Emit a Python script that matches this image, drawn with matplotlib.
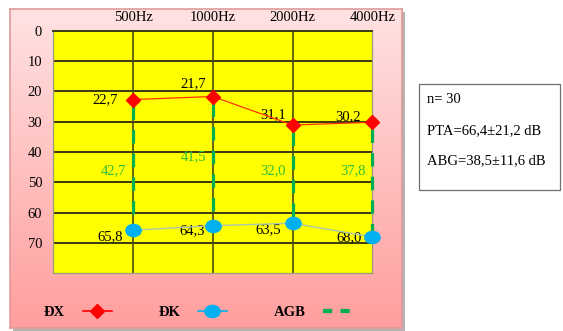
#!/usr/bin/env python3
"""Audiogram: mean thresholds for air (DX) and bone (DK) conduction with air-bone gap."""

import numpy as np
import matplotlib
matplotlib.use('Agg')
import matplotlib.pyplot as plt
from matplotlib.lines import Line2D
from matplotlib.patches import Rectangle
from matplotlib.path import Path

# ── Data ──────────────────────────────────────────────────────────────────────
freqs = ['500Hz', '1000Hz', '2000Hz', '4000Hz']
dx_vals = [22.7, 21.7, 31.1, 30.2]       # air conduction (dB)
dk_vals = [65.8, 64.3, 63.5, 68.0]       # bone conduction (dB)
agb_vals = [42.7, 41.5, 32.0, 37.8]      # air-bone gap labels
y_ticks = [0, 10, 20, 30, 40, 50, 60, 70]
stats_lines = ['n= 30', 'PTA=66,4±21,2 dB', 'ABG=38,5±11,6 dB']

plt.rcParams['font.family'] = ['Liberation Serif', 'DejaVu Serif']

W, H = 563, 331
fig = plt.figure(figsize=(W / 100, H / 100), dpi=100)
fig.patch.set_facecolor('white')


def fx(px):
    return px / W


def fy(py):
    return 1 - py / H


# ── Pink panel with shadow and vertical gradient ──────────────────────────────
px0, py0, px1, py1 = 10, 9, 402, 328
shadow = fig.add_axes([fx(px0 + 3), fy(py1 + 3), fx(px1 - px0), (py1 - py0) / H], zorder=-2)
shadow.set_facecolor('#b4b4b4')
shadow.set_xticks([])
shadow.set_yticks([])
for s in shadow.spines.values():
    s.set_visible(False)

bg = fig.add_axes([fx(px0), fy(py1), fx(px1 - px0), (py1 - py0) / H], zorder=-1)
top_c = np.array([255, 226, 226]) / 255
bot_c = np.array([255, 158, 158]) / 255
t = np.linspace(0, 1, 256)[:, None, None]
grad = top_c * (1 - t) + bot_c * t
bg.imshow(grad, aspect='auto', extent=[0, 1, 0, 1], origin='upper')
bg.set_xlim(0, 1)
bg.set_ylim(0, 1)
bg.set_xticks([])
bg.set_yticks([])
for s in bg.spines.values():
    s.set_color('#e09a9a')
    s.set_linewidth(1.2)

# ── Main plot ────────────────────────────────────────────────────────────────
ax = fig.add_axes([fx(53.3), fy(273.3), fx(372.3 - 53.3), (273.3 - 30.7) / H], zorder=2)
ax.set_facecolor('#ffff00')
x = np.arange(1, len(freqs) + 1)
ax.set_xlim(0, 4)
ax.set_ylim(80, 0)

grid_c = '#2a2a10'
for yv in y_ticks[1:]:
    ax.axhline(yv, color=grid_c, lw=1.3, zorder=1)
for xv in x[:-1]:
    ax.axvline(xv, color='#4a4a10', lw=1.2, zorder=1)

ax.set_xticks(x)
ax.set_xticklabels(freqs, fontsize=10.5)
ax.xaxis.tick_top()
ax.tick_params(axis='x', length=0, pad=5)
ax.set_yticks(y_ticks)
ax.set_yticklabels([str(v) for v in y_ticks], fontsize=10.5)
ax.tick_params(axis='y', length=0, pad=8)
ax.spines['top'].set_color(grid_c)
ax.spines['top'].set_linewidth(1.3)
for side in ['left', 'bottom', 'right']:
    ax.spines[side].set_color('#9a9a7a')
    ax.spines[side].set_linewidth(0.9)

# air-bone gap dashed lines
for xi, a, b in zip(x, dx_vals, dk_vals):
    ax.plot([xi, xi], [a + 2.2, b - 1.5], color='#00b050', lw=2.3,
            ls=(0, (4.2, 3.2)), zorder=3, solid_capstyle='butt', clip_on=False)

ellipse = Path(Path.unit_circle().vertices * np.array([1.25, 1.0]),
               Path.unit_circle().codes)

ax.plot(x, dk_vals, color='#a9c7ae', lw=1.0, zorder=4, clip_on=False)
ax.plot(x, dk_vals, ls='none', marker=ellipse, markersize=11,
        color='#00b0f0', zorder=5, clip_on=False)
ax.plot(x, dx_vals, color='#ff3300', lw=0.9, zorder=4, clip_on=False)
ax.plot(x, dx_vals, ls='none', marker='D', markersize=6.8,
        color='#ff0000', zorder=5, clip_on=False)

# value labels
dx_off = [(-28, 0), (-20, 13), (-19, 10), (-24, 6)]
for xi, v, (ox, oy) in zip(x, dx_vals, dx_off):
    ax.annotate(f'{v:.1f}'.replace('.', ','), (xi, v), xytext=(ox, oy),
                textcoords='offset pixels', ha='center', va='center', fontsize=10.5)
dk_off = [(-23, -6), (-21, -5), (-24, -6), (-23, -1)]
for xi, v, (ox, oy) in zip(x, dk_vals, dk_off):
    ax.annotate(f'{v:.1f}'.replace('.', ','), (xi, v), xytext=(ox, oy),
                textcoords='offset pixels', ha='center', va='center', fontsize=10.5)
agb_y = [46.2, 41.7, 46.2, 46.2]
for xi, v, yy in zip(x, agb_vals, agb_y):
    ax.text(xi - 0.085, yy, f'{v:.1f}'.replace('.', ','), ha='right', va='center',
            fontsize=10.5, color='#2ebd3a', zorder=6)

# ── Legend along the bottom of the panel ─────────────────────────────────────
handles = [
    Line2D([], [], color='#ff0000', lw=1.2, marker='D', markersize=6.8),
    Line2D([], [], color='#00b0f0', lw=1.2, marker=ellipse, markersize=11),
    Line2D([], [], color='#00b050', lw=3, ls=(0, (2.2, 2.0))),
]
leg = fig.legend(handles, ['ĐX', 'ĐK', 'AGB'], loc='center',
                 bbox_to_anchor=(fx(198), fy(312)), ncol=3, frameon=False,
                 markerfirst=False, handlelength=2.0, columnspacing=3.2,
                 handletextpad=1.2, prop={'weight': 'bold', 'size': 10.5})
leg.set_zorder(3)

# ── Stats box ─────────────────────────────────────────────────────────────────
fig.patches.append(Rectangle((fx(419), fy(190)), fx(560 - 419), (190 - 84) / H,
                             transform=fig.transFigure, facecolor='white',
                             edgecolor='#707070', lw=0.9, zorder=1))
for i, line in enumerate(stats_lines):
    fig.text(fx(427), fy(100 + 30.5 * i), line, fontsize=10.5, va='center',
             ha='left', zorder=2)

fig.savefig('out.png', dpi=100)
